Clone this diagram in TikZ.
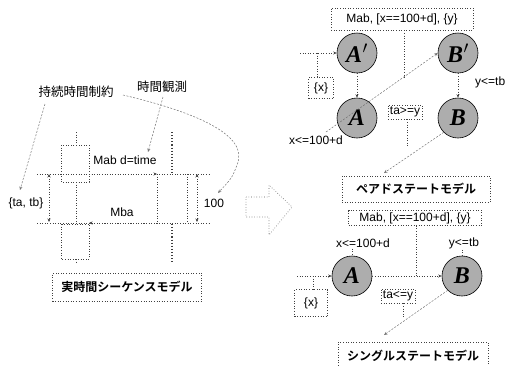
\documentclass[tikz,border=0pt]{standalone}
\usepackage{fontspec}
\setmainfont{Liberation Sans}
\newfontfamily\jp{Noto Sans CJK JP}
\newfontfamily\jpb{Noto Sans CJK JP Bold}
\newfontfamily\lett{Liberation Serif}
\usetikzlibrary{arrows.meta}
\tikzset{
  dl/.style={draw=black!75, dotted, line width=0.6pt},
  dg/.style={draw=black!55, dashed, dash pattern=on 2pt off 1.5pt, line width=0.5pt},
  tip/.style={-{Stealth[length=3.5pt,width=3pt]}},
  dtip/.style={{Stealth[length=3.5pt,width=3pt]}-{Stealth[length=3.5pt,width=3pt]}},
  lbl/.style={font=\fontsize{12}{13}\selectfont, inner sep=1pt},
  bx/.style={draw=black!75, dotted, line width=0.6pt, inner sep=2pt, font=\fontsize{12}{13}\selectfont},
  mbox/.style={draw=black!75, dotted, line width=0.6pt, font=\jpb\fontsize{12}{14}\selectfont},
  st/.style={circle, draw=black, line width=0.6pt, fill=black!32, minimum size=40pt, inner sep=0pt,
             font=\lett\bfseries\itshape\fontsize{24}{24}\selectfont},
  jlab/.style={font=\jp\fontsize{12.5}{14}\selectfont, inner sep=1pt},
}
\begin{document}
\begin{tikzpicture}[x=1pt,y=-1pt]
\useasboundingbox (0,0) rectangle (507,365);
% ---------- left: sequence model ----------
\node[jlab] (dur) at (76,92) {持続時間制約};
\node[jlab] (obs) at (162,87) {時間観測};
\node[lbl] (mab) at (125,160) {Mab d=time};
\node[lbl] (mba) at (122,212) {Mba};
\node[lbl] (tatb) at (26,203) {\{ta, tb\}};
\node[lbl] (hund) at (214,203) {100};
\node[mbox, minimum width=149pt, minimum height=28pt] (seq) at (127,287) {実時間シーケンスモデル};
% activation boxes
\draw[dl] (61,145) rectangle (89,182);
\draw[dl] (61,224) rectangle (89,259);
\draw[dl] (157,174) -- (157,222);
\draw[dl] (187,174) -- (187,222);
% lifelines
\coordinate (la1) at (76,132); \coordinate (la2) at (76,145);
\coordinate (la3) at (76,182); \coordinate (la4) at (76,222);
\coordinate (la5) at (76,259); \coordinate (la6) at (76,263);
\draw[dl] (la1) -- (la2); \draw[dl] (la3) -- (la4); \draw[dl] (la5) -- (la6);
\coordinate (lb1) at (172,132); \coordinate (lb2) at (172,173);
\coordinate (lb3) at (172,224); \coordinate (lb4) at (172,263);
\draw[dl, line width=1.1pt] (lb1) -- (lb2);
\draw[dl, line width=1.1pt] (lb3) -- (lb4);
% time lines and messages
\coordinate (h1l) at (37,174); \coordinate (h1r) at (210,174);
\coordinate (h2l) at (37,223); \coordinate (h2r) at (210,223);
\draw[dl] (h1l) -- (h1r);
\draw[dl] (h2l) -- (h2r);
\coordinate (m1s) at (89,174); \coordinate (m1e) at (157,174);
\coordinate (m2s) at (157,223); \coordinate (m2e) at (89,223);
\draw[dl, tip] (m1s) -- (m1e);
\draw[dl, tip] (m2s) -- (m2e);
% duration arrows
\coordinate (d1a) at (49,174); \coordinate (d1b) at (49,222);
\coordinate (d2a) at (197,174); \coordinate (d2b) at (197,222);
\draw[dl, dtip] (d1a) -- (d1b);
\draw[dl, dtip] (d2a) -- (d2b);
% annotation connectors
\coordinate (durE) at (20,190);
\draw[dg, tip] (45,104) -- (durE);
\coordinate (obsE) at (148,152);
\draw[dg, tip] (163,97) -- (obsE);
\coordinate (hundE) at (218,193);
\draw[dg, tip] (123,95) .. controls (195,112) and (250,135) .. (237,165) .. controls (232,178) .. (hundE);
% ---------- big hollow arrow ----------
\draw[dl, draw=black!65] (246,197) -- (269,197) -- (269,185) -- (292,207) -- (269,235) -- (269,217) -- (246,217) -- cycle;
% ---------- right top: paired state model ----------
\node[bx, minimum width=142pt, minimum height=22pt] (ev1) at (402,19) {Mab, [x==100+d], \{y\}};
\node[st] (Ap) at (357,53) {A\kern0.5pt$'$};
\node[st] (Bp) at (458,53) {B\kern0.5pt$'$};
\node[st] (A1) at (357,118) {A};
\node[st] (B1) at (458,118) {B};
\node[bx, minimum width=25pt, minimum height=21pt] (x1) at (321,88) {\{x\}};
\node[bx] (ta1) at (405,112) {ta>=y};
\node[lbl] (xl1) at (316,140) {x<=100+d};
\node[lbl, anchor=west] (yl1) at (474,82) {y<=tb};
\node[mbox, minimum width=148pt, minimum height=26pt] (pair) at (416,189) {ペアドステートモデル};
\coordinate (in1) at (300,53);
\draw[dl, tip] (in1) -- (Ap.west);
\coordinate (x1j) at (317,53);
\draw[dl] (x1j) -- (x1j |- x1.north);
\draw[dl, tip] (Ap) -- (A1);
\draw[dl, tip] (Bp) -- (B1);
\coordinate (dg1s) at (326,132);
\draw[dg, tip] (dg1s) -- (Bp.west);
\coordinate (ev1j) at (404,79);
\draw[dl] (ev1.south -| ev1j) -- (ev1j);
\coordinate (pairE) at (384,173);
\draw[dg, tip] (B1.225) -- (pairE);
\coordinate (ta1j) at (407,147);
\draw[dl] (ta1.south -| ta1j) -- (ta1j);
% ---------- right bottom: single state model ----------
\node[bx, minimum width=133pt, minimum height=15pt, inner sep=1pt] (ev2) at (415,218) {Mab, [x==100+d], \{y\}};
\node[st] (A2) at (352,276) {A};
\node[st] (B2) at (462,276) {B};
\node[lbl] (xl2) at (363,243) {x<=100+d};
\node[lbl] (yl2) at (464,243) {y<=tb};
\node[bx, minimum width=33pt, minimum height=27pt] (x2) at (311,303) {\{x\}};
\node[bx] (ta2) at (398,296) {ta<=y};
\node[mbox, minimum width=150pt, minimum height=28pt] (single) at (413,356) {シングルステートモデル};
\coordinate (in2) at (297,276);
\draw[dl, tip] (in2) -- (A2.west);
\coordinate (x2j) at (313,276);
\draw[dl] (x2j) -- (x2j |- x2.north);
\draw[dl, tip] (A2) -- (B2);
\coordinate (ev2j) at (416,276);
\draw[dl] (ev2.south -| ev2j) -- (ev2j);
\draw[dl] (xl2.south -| A2) -- (A2.north);
\draw[dl] (yl2.south -| B2) -- (B2.north);
\coordinate (singE) at (384,335);
\draw[dg, tip] (B2.225) -- (singE);
\coordinate (ta2j) at (403,318);
\draw[dl] (ta2.south -| ta2j) -- (ta2j);
\end{tikzpicture}
\end{document}
